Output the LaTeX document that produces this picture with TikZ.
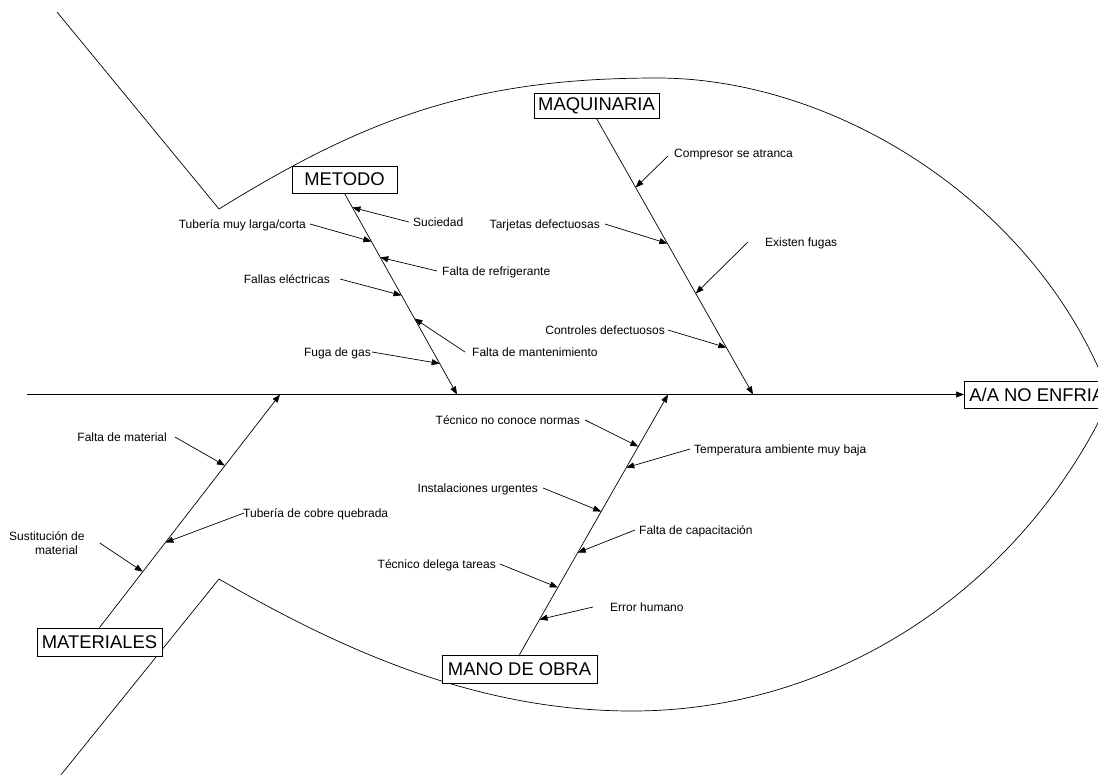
\documentclass[tikz,border=0pt]{standalone}
\usepackage{fontspec}
\setmainfont{Liberation Sans}
\usetikzlibrary{arrows.meta,calc}
\begin{document}
\begin{tikzpicture}[x=1pt,y=-1pt,
  outline/.style={line width=0.7pt},
  arr/.style={line width=0.7pt,-{Triangle[length=8pt,width=6pt]}},
  cat/.style={draw,fill=white,line width=0.8pt,inner sep=0pt,font=\fontsize{18.4}{21}\selectfont},
  lbl/.style={inner sep=0pt,font=\fontsize{12}{14}\selectfont,text height=8.6pt,text depth=0pt}]
\useasboundingbox (0,0) rectangle (1098,774);

% fish body: tail strokes and the two arcs
\draw[outline] (57,12) -- (219,209)
  .. controls (369,116) and (477,78) .. (657,78)
  .. controls (827,78) and (1018,191) .. (1098,367)
  -- (1110,394);
\draw[outline] (60,776) -- (219,579)
  .. controls (349,654.4) and (482,711) .. (632,711)
  .. controls (832,711) and (1008,594) .. (1098,423)
  -- (1110,398);

% category boxes and effect
\node[cat,minimum width=105pt,minimum height=27pt] (metodo) at (344.5,179.5) {METODO};
\node[cat,minimum width=125pt,minimum height=25pt] (maq) at (596.5,105.5) {MAQUINARIA};
\node[cat,minimum width=125pt,minimum height=28pt] (mat) at (99.5,642) {MATERIALES};
\node[cat,minimum width=155pt,minimum height=28pt] (mano) at (519.5,669) {MANO DE OBRA};
\node[cat,anchor=west,minimum height=27pt,inner xsep=5pt] (efecto) at (964,394.5) {A/A NO ENFRIA};

% spine
\coordinate (cola) at (27,394.5);
\draw[arr] (cola) -- (efecto.west);

% bone ends on the spine
\coordinate (tM) at (457,394.5);
\coordinate (tQ) at (753,394.5);
\coordinate (tT) at (280,394.5);
\coordinate (tO) at (668,394.5);
\draw[arr] (metodo.south) -- (tM);
\draw[arr] (maq.south) -- (tQ);
\draw[arr] (mat.north) -- (tT);
\draw[arr] (mano.north) -- (tO);

% METODO causes
\node[lbl,anchor=west] (m1) at (413,222) {Suciedad};
\draw[arr] ([xshift=-4pt]m1.west) -- ($(metodo.south)!0.07!(tM)$);
\node[lbl,anchor=east] (m2) at (306,224) {Tubería muy larga/corta};
\draw[arr] ([xshift=4pt]m2.east) -- ($(metodo.south)!0.239!(tM)$);
\node[lbl,anchor=west] (m3) at (442,271) {Falta de refrigerante};
\draw[arr] ([xshift=-5pt]m3.west) -- ($(metodo.south)!0.318!(tM)$);
\node[lbl,anchor=east] (m4) at (330,279) {Fallas eléctricas};
\draw[arr] ([xshift=10pt]m4.east) -- ($(metodo.south)!0.507!(tM)$);
\node[lbl,anchor=west] (m5) at (472,352) {Falta de mantenimiento};
\draw[arr] ([xshift=-7pt]m5.west) -- ($(metodo.south)!0.622!(tM)$);
\node[lbl,anchor=east] (m6) at (371,352) {Fuga de gas};
\draw[arr] ([xshift=1pt]m6.east) -- ($(metodo.south)!0.846!(tM)$);

% MAQUINARIA causes
\node[lbl,anchor=west] (q1) at (674,153) {Compresor se atranca};
\draw[arr] ([shift={(-6pt,-3pt)}]q1.west) -- ($(maq.south)!0.25!(tQ)$);
\node[lbl,anchor=east] (q2) at (600,224) {Tarjetas defectuosas};
\draw[arr] ([xshift=5pt]q2.east) -- ($(maq.south)!0.453!(tQ)$);
\node[lbl,anchor=west] (q3) at (765,242) {Existen fugas};
\draw[arr] ([xshift=-17pt]q3.west) -- ($(maq.south)!0.634!(tQ)$);
\node[lbl,anchor=east] (q4) at (665,330) {Controles defectuosos};
\draw[arr] ([xshift=3pt]q4.east) -- ($(maq.south)!0.83!(tQ)$);

% MATERIALES causes
\node[lbl,anchor=east] (t1) at (167,437) {Falta de material};
\draw[arr] ([xshift=8pt]t1.east) -- ($(mat.north)!0.695!(tT)$);
\node[lbl,anchor=west] (t2) at (243,513) {Tubería de cobre quebrada};
\draw[arr] ([xshift=1pt]t2.west) -- ($(mat.north)!0.365!(tT)$);
\node[inner sep=0pt,font=\fontsize{12}{14}\selectfont,align=left,anchor=west] (t3) at (9,543) {Sustitución de\\\hspace*{26pt}material};
\draw[arr] ([xshift=15pt]t3.east) -- ($(mat.north)!0.24!(tT)$);

% MANO DE OBRA causes
\node[lbl,anchor=east] (o1) at (580,420) {Técnico no conoce normas};
\draw[arr] ([xshift=5pt]o1.east) -- ($(mano.north)!0.8!(tO)$);
\node[lbl,anchor=west] (o2) at (694,449) {Temperatura ambiente muy baja};
\draw[arr] ([xshift=-4pt]o2.west) -- ($(mano.north)!0.719!(tO)$);
\node[lbl,anchor=east] (o3) at (538,488) {Instalaciones urgentes};
\draw[arr] ([xshift=5pt]o3.east) -- ($(mano.north)!0.55!(tO)$);
\node[lbl,anchor=west] (o4) at (639,530) {Falta de capacitación};
\draw[arr] ([xshift=-4pt]o4.west) -- ($(mano.north)!0.392!(tO)$);
\node[lbl,anchor=east] (o5) at (496,564) {Técnico delega tareas};
\draw[arr] ([xshift=4pt]o5.east) -- ($(mano.north)!0.258!(tO)$);
\node[lbl,anchor=west] (o6) at (610,607) {Error humano};
\draw[arr] ([xshift=-17pt]o6.west) -- ($(mano.north)!0.135!(tO)$);
\end{tikzpicture}
\end{document}
